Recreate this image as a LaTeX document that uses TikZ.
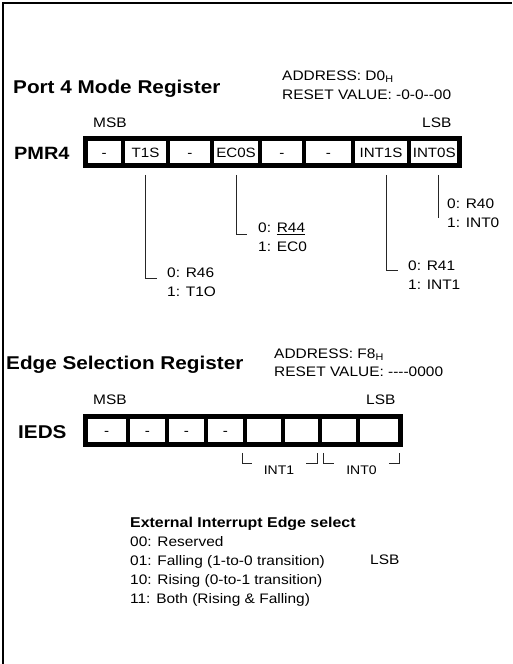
\documentclass[tikz,border=0pt]{standalone}
\usepackage{fontspec}
\setmainfont{Liberation Sans}[FakeStretch=1.12]
\tikzset{
  bitbox/.style={
    draw, line width=4.5pt,
    font=\fontsize{13.5}{19}\selectfont,
    text height=10pt, text depth=0pt, inner sep=0pt
  },
  leader/.style={line width=0.9pt, black!85},
  regtitle/.style={font=\fontsize{18.5}{22}\selectfont\bfseries, anchor=base west, inner sep=0pt},
  regname/.style={font=\fontsize{17.8}{22}\selectfont\bfseries, anchor=base west, inner sep=0pt},
  txt/.style={font=\fontsize{13.8}{19}\selectfont, inner sep=0pt},
  lbl/.style={txt, align=left, anchor=north west}
}
% name, left x, right x, top y, bottom y, text
\newcommand{\drawbit}[6]{
  \node[bitbox, minimum width={#3-#2}, minimum height={#5-#4}] (#1) at ({(#2+#3)/2}, {(#4+#5)/2}) {#6};
}
\newcommand{\ulbar}[1]{\setbox0=\hbox{#1}\rlap{\rule[-2.6pt]{\wd0}{1.2pt}}\box0}

\begin{document}
\begin{tikzpicture}[x=1pt, y=-1pt]
\useasboundingbox (0,0) rectangle (512,664);

% Frame
\draw[line width=2.3pt] (3,664) -- (3,3) -- (512,3);

% Port 4 Mode Register
\node[regtitle] (pmrTitle) at (13,93) {Port 4 Mode Register};
\node[lbl] (pmrAddr) at (282,70.4) {ADDRESS: D0\textsubscript{H}\\RESET VALUE: -0-0-{}-00};
\node[txt, anchor=base west] (pmrMsb) at (93,127) {MSB};
\node[txt, anchor=base west] (pmrLsb) at (422,127) {LSB};
\node[regname] (pmrName) at (14,159) {PMR4};

\drawbit{p7}{85.5}{123}{138.5}{165.5}{-}
\drawbit{p6}{123}{168}{138.5}{165.5}{T1S}
\drawbit{p5}{168}{212}{138.5}{165.5}{-}
\drawbit{p4}{212}{260}{138.5}{165.5}{EC0S}
\drawbit{p3}{260}{304}{138.5}{165.5}{-}
\drawbit{p2}{304}{353}{138.5}{165.5}{-}
\drawbit{p1}{353}{409}{138.5}{165.5}{INT1S}
\drawbit{p0}{409}{459.5}{138.5}{165.5}{INT0S}

% Bit descriptions
\node[lbl] (t1sLbl) at (167,267.4) {0: R46\\1: T1O};
\node[lbl] (ec0sLbl) at (258,222.4) {0: \ulbar{R44}\\1: EC0};
\node[lbl] (int1sLbl) at (408,260.4) {0: R41\\1: INT1};
\node[lbl] (int0sLbl) at (447,198.4) {0: R40\\1: INT0};

\draw[leader] ([yshift=-7pt]p6.south) |- ([xshift=-10pt,yshift=-10.6pt]t1sLbl.north west);
\draw[leader] ([yshift=-7pt]p4.south) |- ([xshift=-11pt,yshift=-11.6pt]ec0sLbl.north west);
\draw[leader] ([xshift=5pt,yshift=-7pt]p1.south) |- ([xshift=-10pt,yshift=-9.6pt]int1sLbl.north west);
\draw[leader] ([xshift=4pt,yshift=-7pt]p0.south) -- ++(0,43);

% Edge Selection Register
\node[regtitle] (iedsTitle) at (6,369) {Edge Selection Register};
\node[lbl] (iedsAddr) at (274,348.4) {ADDRESS: F8\textsubscript{H}\\[-1pt]RESET VALUE: -{}-{}-{}-0000};
\node[txt, anchor=base west] (iedsMsb) at (93,404) {MSB};
\node[txt, anchor=base west] (iedsLsb) at (366,404) {LSB};
\node[regname, font=\fontsize{18.5}{22}\selectfont\bfseries] (iedsName) at (18,438) {IEDS};

\drawbit{e7}{85.5}{128}{416.5}{444.5}{-}
\drawbit{e6}{128}{167}{416.5}{444.5}{-}
\drawbit{e5}{167}{206}{416.5}{444.5}{-}
\drawbit{e4}{206}{245}{416.5}{444.5}{-}
\drawbit{e3}{245}{283}{416.5}{444.5}{}
\drawbit{e2}{283}{320}{416.5}{444.5}{}
\drawbit{e1}{320}{358}{416.5}{444.5}{}
\drawbit{e0}{358}{400.5}{416.5}{444.5}{}

% INT1 / INT0 brackets
\node[txt, font=\fontsize{12.5}{15}\selectfont, anchor=base] (int1Lbl) at (279,474) {INT1};
\node[txt, font=\fontsize{12.5}{15}\selectfont, anchor=base] (int0Lbl) at (361.5,474) {INT0};

\draw[leader] ([yshift=-6pt]e3.south west) |- ([xshift=-12pt,yshift=2pt]int1Lbl.north west);
\draw[leader] ([xshift=12pt,yshift=2pt]int1Lbl.north east) -| ([xshift=-5pt,yshift=-6pt]e2.south east);
\draw[leader] ([xshift=6pt,yshift=-6pt]e1.south west) |- ([xshift=-12pt,yshift=2pt]int0Lbl.north west);
\draw[leader] ([xshift=12pt,yshift=2pt]int0Lbl.north east) -| ([xshift=-3pt,yshift=-6pt]e0.south east);

% Edge select legend
\node[lbl] (edgeLegend) at (130,516.6) {{\fontsize{14.2}{19}\selectfont\bfseries External Interrupt Edge select}\\00: Reserved\\01: Falling (1-to-0 transition)\\10: Rising (0-to-1 transition)\\11: Both (Rising \& Falling)};
\node[txt, anchor=base west] (legendLsb) at (370,564) {LSB};

\end{tikzpicture}
\end{document}
